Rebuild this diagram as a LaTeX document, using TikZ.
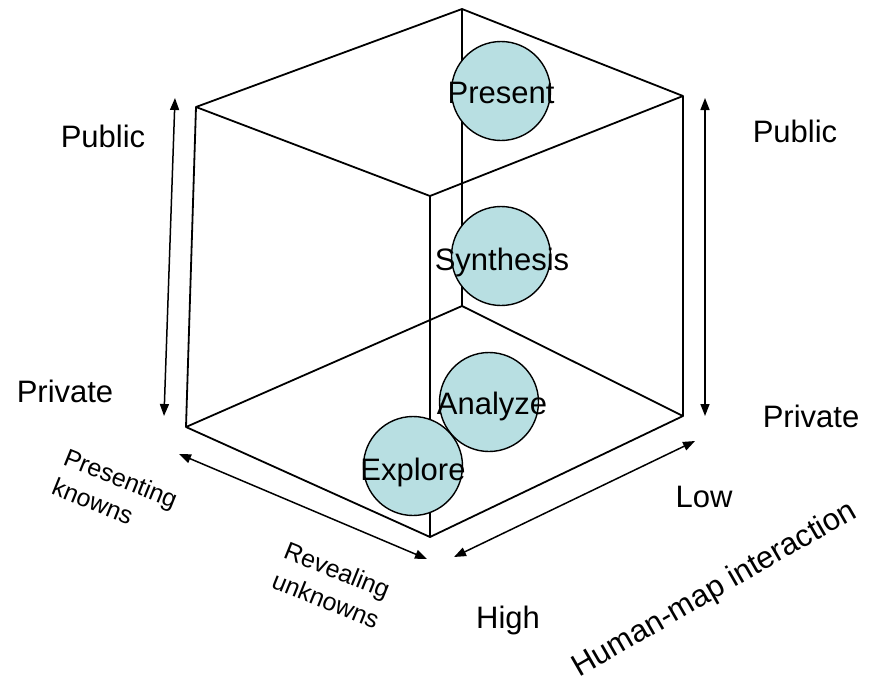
\documentclass[tikz,border=0pt]{standalone}
\usepackage{fontspec}
\setmainfont{Liberation Sans}
\usetikzlibrary{arrows.meta}
\definecolor{bub}{RGB}{184,223,226}
\begin{document}
\begin{tikzpicture}[x=1pt,y=1pt,
  edge/.style={line width=1.8pt, line join=round},
  dbl/.style={line width=1.5pt, {Triangle[length=12pt,width=9pt]}-{Triangle[length=12pt,width=9pt]}},
  bubble/.style={circle, draw, line width=1.4pt, fill=bub, minimum size=99pt, inner sep=0pt},
  big/.style={font=\fontsize{31}{36}\selectfont, inner sep=0pt, anchor=base},
  small/.style={font=\fontsize{25}{32}\selectfont, align=left, inner sep=0pt}]
\useasboundingbox (0,0) rectangle (871,-686);
% cube vertices
\coordinate (T)  at (462,-9);
\coordinate (LT) at (196,-107);
\coordinate (RT) at (683,-96);
\coordinate (FT) at (430,-196);
\coordinate (BB) at (462,-306);
\coordinate (LB) at (186,-427);
\coordinate (RB) at (683,-416);
\coordinate (FB) at (430,-537);
% cube edges
\draw[edge] (T) -- (LT) -- (FT) -- (RT) -- cycle;
\draw[edge] (BB) -- (LB) -- (FB) -- (RB) -- cycle;
\draw[edge] (T) -- (BB);
\draw[edge] (LT) -- (LB);
\draw[edge] (RT) -- (RB);
\draw[edge] (FT) -- (FB);
% arrow ends
\coordinate (lvt) at (175,-98);
\coordinate (lvb) at (164,-416);
\coordinate (rvt) at (705,-98);
\coordinate (rvb) at (705,-416);
\coordinate (bla) at (179,-454);
\coordinate (blb) at (427,-559);
\coordinate (bra) at (695,-441);
\coordinate (brb) at (454,-557);
\draw[dbl] (lvt) -- (lvb);
\draw[dbl] (rvt) -- (rvb);
\draw[dbl] (bla) -- (blb);
\draw[dbl] (bra) -- (brb);
% bubbles
\node[bubble] (present) at (501,-91) {};
\node[bubble] (synth) at (501,-256) {};
\node[bubble] (analyze) at (489,-402) {};
\node[bubble] (explore) at (413,-466) {};
\node[big] (presentT) at (501,-103) {Present};
\node[big] (synthT) at (502,-270) {Synthesis};
\node[big] (analyzeT) at (492,-414) {Analyze};
\node[big] (exploreT) at (413,-480) {Explore};
% axis labels
\node[big] (pubL) at (103,-147) {Public};
\node[big] (privL) at (65,-402) {Private};
\node[big] (pubR) at (795,-142) {Public};
\node[big] (privR) at (811,-427) {Private};
\node[big] (low) at (704,-507) {Low};
\node[big] (high) at (508,-628) {High};
\node[small, rotate=-22] (pk) at (115,-493) {Presenting\\knowns};
\node[small, rotate=-22] (ru) at (332,-585) {Revealing\\unknowns};
\node[font=\fontsize{31}{36}\selectfont, inner sep=0pt, rotate=30] (hmi) at (715,-590) {Human-map interaction};
\end{tikzpicture}
\end{document}
